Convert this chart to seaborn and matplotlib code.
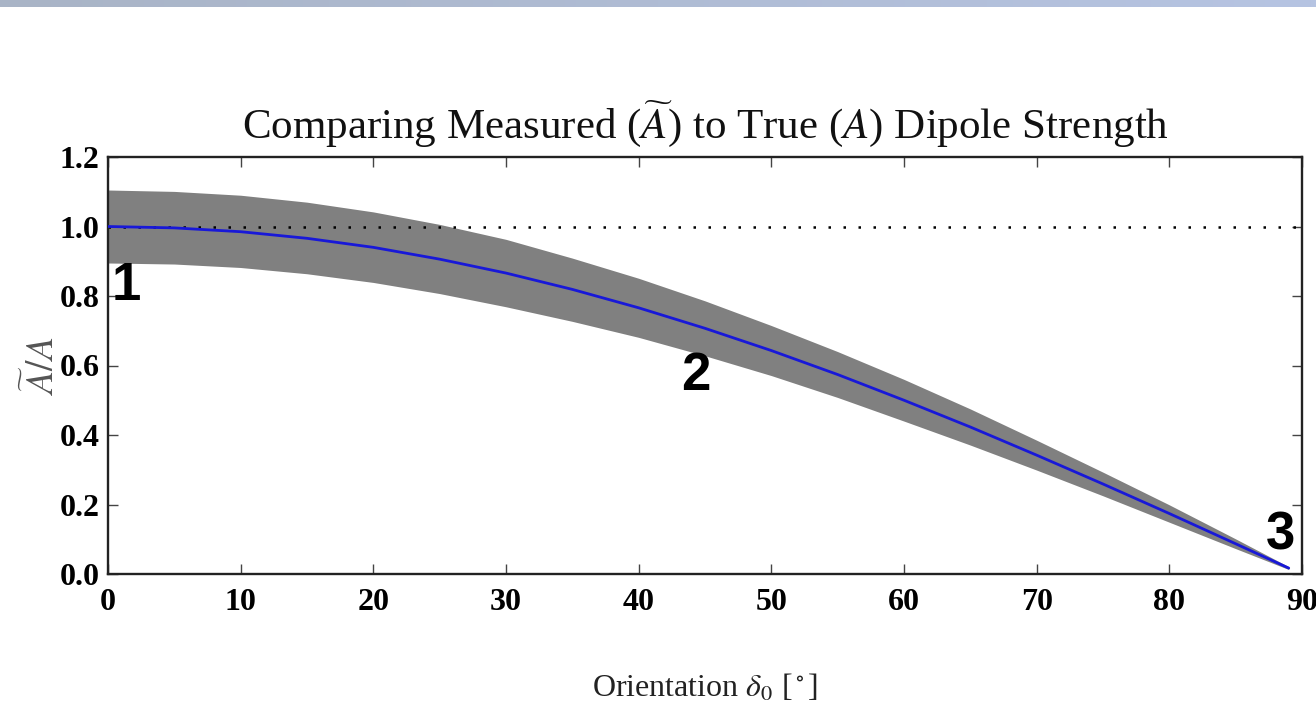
import numpy as np
import pandas as pd
import matplotlib
matplotlib.use("Agg")
import matplotlib.pyplot as plt
import seaborn as sns

# ---- data ----
orientation = [0, 5, 10, 15, 20, 25, 30, 35, 40, 45, 50, 55, 60, 65, 70, 75, 80, 85, 89]
ratio = [1.000, 0.996, 0.985, 0.966, 0.940, 0.906, 0.866, 0.819, 0.766, 0.707,
         0.643, 0.574, 0.500, 0.423, 0.342, 0.259, 0.174, 0.087, 0.017]
band_upper = [1.105, 1.101, 1.090, 1.070, 1.042, 1.006, 0.963, 0.909, 0.851, 0.786,
              0.715, 0.640, 0.560, 0.475, 0.385, 0.293, 0.199, 0.101, 0.021]
band_lower = [0.895, 0.892, 0.882, 0.864, 0.839, 0.807, 0.769, 0.727, 0.681, 0.628,
              0.571, 0.508, 0.440, 0.371, 0.299, 0.225, 0.149, 0.073, 0.013]
reference_level = [1.0, 1.0]
reference_x = [0, 90]
x_ticks = [0, 10, 20, 30, 40, 50, 60, 70, 80, 90]
y_ticks = [0.0, 0.2, 0.4, 0.6, 0.8, 1.0, 1.2]
markers = ["1", "2", "3"]
marker_x = [1.4, 44.3, 88.4]
marker_y = [0.83, 0.57, 0.112]

df = pd.DataFrame({"orientation": orientation, "ratio": ratio,
                   "upper": band_upper, "lower": band_lower})

sns.set_theme(style="ticks")
plt.rcParams["font.family"] = ["Liberation Serif", "DejaVu Serif"]
plt.rcParams["mathtext.fontset"] = "stix"

fig = plt.figure(figsize=(13.16, 7.08), dpi=100)
fig.patch.set_facecolor("white")

# top gradient strip (screenshot chrome)
strip = fig.add_axes([0, 1 - 7 / 708, 1, 7 / 708])
grad = np.linspace(0, 1, 256).reshape(1, -1)
cmap = matplotlib.colors.LinearSegmentedColormap.from_list("strip", ["#a9b4c6", "#b6c4e2"])
strip.imshow(grad, aspect="auto", cmap=cmap)
strip.set_axis_off()

ax = fig.add_axes([108 / 1316, 1 - 574 / 708, (1302 - 108) / 1316, (574 - 157) / 708])
ax.set_facecolor("white")

ax.fill_between(df["orientation"], df["lower"], df["upper"], color="#808080",
                linewidth=0, zorder=1)
sns.lineplot(x=reference_x, y=reference_level, ax=ax, color="black",
             linestyle=(0, (1, 5)), linewidth=1.8, zorder=2)
sns.lineplot(data=df, x="orientation", y="ratio", ax=ax, color="#1818d8",
             linewidth=2.0, zorder=3)

ax.set_xlim(0, 90)
ax.set_ylim(0, 1.2)
ax.set_xticks(x_ticks)
ax.set_yticks(y_ticks)
ax.set_xticklabels([str(v) for v in x_ticks], fontsize=23, fontweight="bold")
ax.set_yticklabels([f"{v:.1f}" for v in y_ticks], fontsize=23, fontweight="bold")
ax.tick_params(axis="both", direction="in", length=7, width=1, top=True, right=True,
               colors="#444444", labelcolor="black")
ax.tick_params(axis="x", pad=10)
ax.tick_params(axis="y", pad=6)

for sp in ax.spines.values():
    sp.set_visible(True)
    sp.set_color("#222222")
    sp.set_linewidth(1.7)

ax.set_title(r"Comparing Measured ($\widetilde{A}$) to True ($A$) Dipole Strength",
             fontsize=31, pad=14, color="#111111")
ax.set_xlabel(r"Orientation $\delta_0$ [$^\circ$]", fontsize=23, labelpad=40,
              color="#222222")
ax.set_ylabel(r"$\widetilde{A}/A$", fontsize=27, labelpad=-2, color="#555555")

for label, mx, my in zip(markers, marker_x, marker_y):
    ax.text(mx, my, label, fontsize=38, fontweight="bold", ha="center", va="center",
            family=["Liberation Sans", "DejaVu Sans"], color="black", zorder=5)

ax.grid(False)
fig.savefig("out.png", dpi=100)
